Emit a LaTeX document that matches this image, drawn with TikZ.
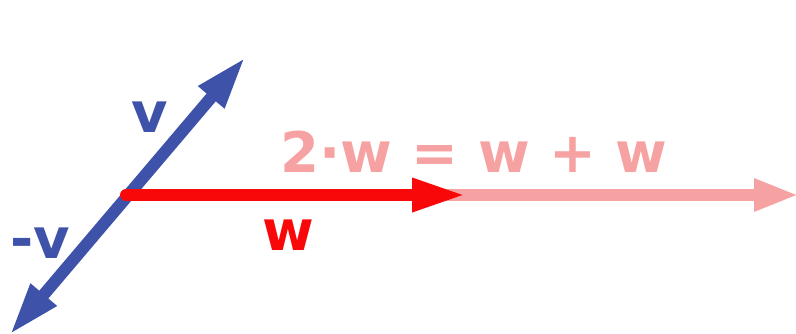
\documentclass[tikz,border=0pt]{standalone}
\usepackage{fontspec}
\setmainfont{DejaVu Sans}
\usetikzlibrary{arrows.meta}
\definecolor{vblue}{RGB}{62,82,170}
\definecolor{wred}{RGB}{248,8,8}
\definecolor{wpink}{RGB}{247,162,162}
\tikzset{
  vec/.style={line width=12pt},
  lbl/.style={font=\fontsize{56}{56}\selectfont\bfseries, anchor=base, inner sep=0pt},
}
\begin{document}
\begin{tikzpicture}[x=1pt,y=-1pt]
\useasboundingbox (0,0) rectangle (796,333);
\coordinate (O) at (126,195);
\coordinate (V) at (245.5,57);
\coordinate (MV) at (9.5,335);
\coordinate (W) at (466,195);
\coordinate (WW) at (799,195);
\draw[vec, wpink, -{Triangle[length=45pt,width=30pt]}] (O) -- (WW);
\draw[vec, vblue, {Triangle[length=53pt,width=31pt]}-{Triangle[length=53pt,width=31pt]}] (MV) -- (V);
\draw[vec, wred, line cap=round, -{Triangle[length=54pt,width=31pt]}] (O) -- (W);
\node[lbl, text=vblue] (lv) at (149.5,132) {v};
\node[lbl, text=vblue] (lmv) at (40,258) {-v};
\node[lbl, text=wred] (lw) at (288.5,250) {w};
\node[lbl, text=wpink] (l2w) at (474,172) {2·w = w + w};
\end{tikzpicture}
\end{document}
